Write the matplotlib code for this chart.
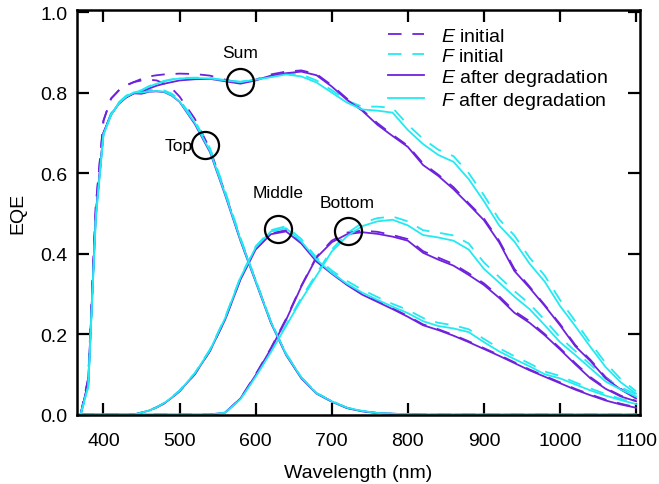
import matplotlib
matplotlib.use("Agg")
import matplotlib.pyplot as plt
from matplotlib.lines import Line2D

plt.rcParams['font.family'] = ['Liberation Sans', 'DejaVu Sans']
plt.rcParams['mathtext.fontset'] = 'custom'
plt.rcParams['mathtext.it'] = 'Liberation Sans:italic'
plt.rcParams['mathtext.rm'] = 'Liberation Sans'

wavelength = [370, 380, 390, 400, 410, 420, 430, 440, 450, 460, 470, 480, 490, 500,
              520, 540, 560, 580, 600, 620, 640, 660, 680, 700, 720, 740, 760, 780, 800,
              820, 840, 860, 880, 900, 920, 940, 960, 980, 1000, 1020, 1040, 1060, 1080, 1100]

Z15 = [0.0] * 15
Z7 = [0.0] * 7
Z16 = [0.0] * 16

# Top sub-cell
top_E_after = [0.0, 0.08, 0.50, 0.70, 0.745, 0.772, 0.788, 0.798, 0.797, 0.802, 0.803, 0.801, 0.792, 0.777,
               0.722, 0.652, 0.545, 0.432, 0.33, 0.228, 0.148, 0.09, 0.052, 0.032, 0.016, 0.008, 0.004, 0.002, 0.001] + Z15
top_F_after = [0.0, 0.07, 0.49, 0.695, 0.745, 0.773, 0.79, 0.8, 0.8, 0.803, 0.804, 0.802, 0.793, 0.778,
               0.725, 0.655, 0.548, 0.435, 0.332, 0.23, 0.15, 0.092, 0.053, 0.033, 0.017, 0.009, 0.004, 0.002, 0.001] + Z15
top_E_init = [0.0, 0.09, 0.52, 0.73, 0.785, 0.805, 0.818, 0.826, 0.83, 0.832, 0.83, 0.822, 0.81, 0.79,
              0.735, 0.66, 0.55, 0.435, 0.333, 0.23, 0.15, 0.092, 0.053, 0.033, 0.017, 0.008, 0.004, 0.002, 0.001] + Z15
top_F_init = [0.0, 0.07, 0.49, 0.70, 0.748, 0.775, 0.792, 0.8, 0.802, 0.806, 0.806, 0.805, 0.797, 0.782,
              0.73, 0.662, 0.555, 0.44, 0.335, 0.232, 0.152, 0.093, 0.054, 0.034, 0.017, 0.009, 0.004, 0.002, 0.001] + Z15

# Sum
sum_E_after = [0.0, 0.08, 0.50, 0.70, 0.745, 0.772, 0.788, 0.798, 0.802, 0.81, 0.817, 0.822, 0.826, 0.83,
               0.833, 0.834, 0.828, 0.822, 0.83, 0.842, 0.848, 0.852, 0.843, 0.815, 0.782, 0.755, 0.72, 0.692, 0.665,
               0.62, 0.593, 0.56, 0.522, 0.483, 0.428, 0.357, 0.315, 0.27, 0.222, 0.17, 0.133, 0.09, 0.062, 0.04]
sum_F_after = [0.0, 0.07, 0.49, 0.695, 0.745, 0.773, 0.79, 0.8, 0.805, 0.815, 0.822, 0.828, 0.832, 0.835,
               0.836, 0.835, 0.83, 0.826, 0.832, 0.838, 0.845, 0.84, 0.825, 0.80, 0.775, 0.758, 0.755, 0.75, 0.707,
               0.672, 0.645, 0.628, 0.585, 0.53, 0.47, 0.43, 0.375, 0.33, 0.27, 0.22, 0.168, 0.118, 0.08, 0.052]
sum_E_init = [0.0, 0.09, 0.52, 0.73, 0.785, 0.805, 0.818, 0.826, 0.834, 0.84, 0.843, 0.845, 0.846, 0.847,
              0.846, 0.842, 0.832, 0.824, 0.832, 0.845, 0.852, 0.855, 0.846, 0.818, 0.785, 0.757, 0.724, 0.695, 0.668,
              0.624, 0.596, 0.565, 0.525, 0.487, 0.432, 0.362, 0.318, 0.272, 0.225, 0.173, 0.136, 0.093, 0.064, 0.042]
sum_F_init = [0.0, 0.07, 0.49, 0.70, 0.748, 0.775, 0.792, 0.8, 0.806, 0.816, 0.823, 0.829, 0.833, 0.836,
              0.837, 0.836, 0.831, 0.827, 0.833, 0.84, 0.847, 0.845, 0.83, 0.806, 0.78, 0.765, 0.765, 0.762, 0.72,
              0.685, 0.658, 0.642, 0.6, 0.545, 0.485, 0.445, 0.39, 0.345, 0.285, 0.232, 0.178, 0.128, 0.088, 0.058]

# Middle sub-cell
mid_E_after = Z7 + [0.0, 0.005, 0.01, 0.018, 0.028, 0.042, 0.058,
                    0.1, 0.158, 0.236, 0.335, 0.41, 0.448, 0.455, 0.425, 0.38, 0.35, 0.322, 0.298, 0.28, 0.262, 0.243,
                    0.222, 0.21, 0.196, 0.18, 0.163, 0.146, 0.128, 0.11, 0.094, 0.078, 0.062, 0.048, 0.035, 0.025, 0.017]
mid_F_after = Z7 + [0.0, 0.005, 0.01, 0.018, 0.029, 0.043, 0.059,
                    0.102, 0.16, 0.24, 0.34, 0.415, 0.455, 0.463, 0.43, 0.385, 0.352, 0.325, 0.303, 0.285, 0.268, 0.252,
                    0.232, 0.22, 0.214, 0.205, 0.18, 0.157, 0.138, 0.12, 0.1, 0.09, 0.075, 0.06, 0.047, 0.036, 0.026]
mid_E_init = Z7 + [0.0, 0.005, 0.01, 0.018, 0.028, 0.042, 0.058,
                   0.1, 0.158, 0.237, 0.337, 0.412, 0.45, 0.458, 0.428, 0.382, 0.352, 0.324, 0.3, 0.282, 0.264, 0.245,
                   0.224, 0.212, 0.198, 0.182, 0.165, 0.148, 0.13, 0.112, 0.096, 0.08, 0.064, 0.05, 0.037, 0.027, 0.018]
mid_F_init = Z7 + [0.0, 0.005, 0.01, 0.019, 0.029, 0.044, 0.06,
                   0.103, 0.162, 0.242, 0.342, 0.418, 0.458, 0.468, 0.436, 0.39, 0.358, 0.332, 0.31, 0.292, 0.275, 0.26,
                   0.24, 0.228, 0.222, 0.212, 0.188, 0.165, 0.145, 0.127, 0.107, 0.096, 0.08, 0.065, 0.051, 0.039, 0.029]

# Bottom sub-cell
bot_E_after = Z16 + [0.005, 0.04, 0.098, 0.163, 0.235, 0.318, 0.39, 0.428, 0.448, 0.453, 0.449, 0.442, 0.432,
                     0.402, 0.385, 0.37, 0.347, 0.322, 0.29, 0.253, 0.228, 0.197, 0.162, 0.125, 0.09, 0.064, 0.045, 0.033]
bot_F_after = Z16 + [0.005, 0.038, 0.094, 0.155, 0.22, 0.285, 0.345, 0.405, 0.443, 0.468, 0.48, 0.484, 0.47,
                     0.446, 0.44, 0.432, 0.41, 0.362, 0.328, 0.293, 0.262, 0.222, 0.18, 0.148, 0.115, 0.082, 0.062, 0.045]
bot_E_init = Z16 + [0.005, 0.04, 0.1, 0.165, 0.238, 0.32, 0.392, 0.432, 0.452, 0.457, 0.454, 0.446, 0.436,
                    0.406, 0.39, 0.374, 0.351, 0.326, 0.294, 0.257, 0.232, 0.2, 0.165, 0.128, 0.093, 0.066, 0.047, 0.034]
bot_F_init = Z16 + [0.005, 0.038, 0.095, 0.157, 0.223, 0.29, 0.35, 0.41, 0.45, 0.476, 0.488, 0.492, 0.48,
                    0.458, 0.452, 0.445, 0.425, 0.378, 0.342, 0.307, 0.275, 0.235, 0.192, 0.158, 0.124, 0.09, 0.068, 0.05]

labels = ["Sum", "Top", "Middle", "Bottom"]
circle_x = [579, 533, 629, 721]
circle_y = [0.827, 0.670, 0.460, 0.456]
label_x = [579, 517, 629, 720]
label_y = [0.899, 0.668, 0.551, 0.528]
label_ha = ["center", "right", "center", "center"]

legend_labels = [r"$\it{E}$ initial", r"$\it{F}$ initial",
                 r"$\it{E}$ after degradation", r"$\it{F}$ after degradation"]

PURPLE = "#6E22DC"
CYAN = "#22EAF2"
LW = 1.3
DASH = (7.5, 6.0)

fig = plt.figure(figsize=(6.59, 4.85), dpi=100)
ax = fig.add_axes([0.1168, 0.1423, 0.8542, 0.835])

groups_init = [(top_E_init, top_F_init), (sum_E_init, sum_F_init), (mid_E_init, mid_F_init), (bot_E_init, bot_F_init)]
groups_after = [(top_E_after, top_F_after), (sum_E_after, sum_F_after), (mid_E_after, mid_F_after), (bot_E_after, bot_F_after)]

for e, f in groups_init:
    ax.plot(wavelength, e, color=PURPLE, lw=LW, dashes=DASH)
for e, f in groups_init:
    ax.plot(wavelength, f, color=CYAN, lw=LW, dashes=DASH)
for e, f in groups_after:
    ax.plot(wavelength, e, color=PURPLE, lw=LW)
for e, f in groups_after:
    ax.plot(wavelength, f, color=CYAN, lw=LW)

ax.plot(circle_x, circle_y, linestyle="none", marker="o", markersize=19.5,
        markerfacecolor="none", markeredgecolor="black", markeredgewidth=1.6, zorder=5)
for t, x, y, ha in zip(labels, label_x, label_y, label_ha):
    ax.text(x, y, t, fontsize=12.5, ha=ha, va="center", color="black")

handles = [Line2D([], [], color=PURPLE, lw=LW, dashes=DASH),
           Line2D([], [], color=CYAN, lw=LW, dashes=DASH),
           Line2D([], [], color=PURPLE, lw=LW),
           Line2D([], [], color=CYAN, lw=LW)]
ax.legend(handles, legend_labels, loc="upper left", bbox_to_anchor=(0.529, 0.99),
          frameon=False, fontsize=14, handlelength=1.85, handletextpad=0.85,
          labelspacing=0.1, borderpad=0.2)

ax.set_xlim(365.2, 1105)
ax.set_ylim(-0.001, 1.005)
ax.set_xticks([400, 500, 600, 700, 800, 900, 1000, 1100])
ax.set_yticks([0.0, 0.2, 0.4, 0.6, 0.8, 1.0])
ax.set_yticklabels(["0.0", "0.2", "0.4", "0.6", "0.8", "1.0"])
ax.tick_params(direction="in", length=8.5, width=1.6, top=True, right=True,
               labelsize=14, pad=7)
ax.tick_params(axis="x", pad=12)
for s in ax.spines.values():
    s.set_linewidth(1.8)
ax.set_xlabel("Wavelength (nm)", fontsize=14, labelpad=11)
ax.set_ylabel("EQE", fontsize=14, labelpad=10)

fig.savefig("out.png", dpi=100)
